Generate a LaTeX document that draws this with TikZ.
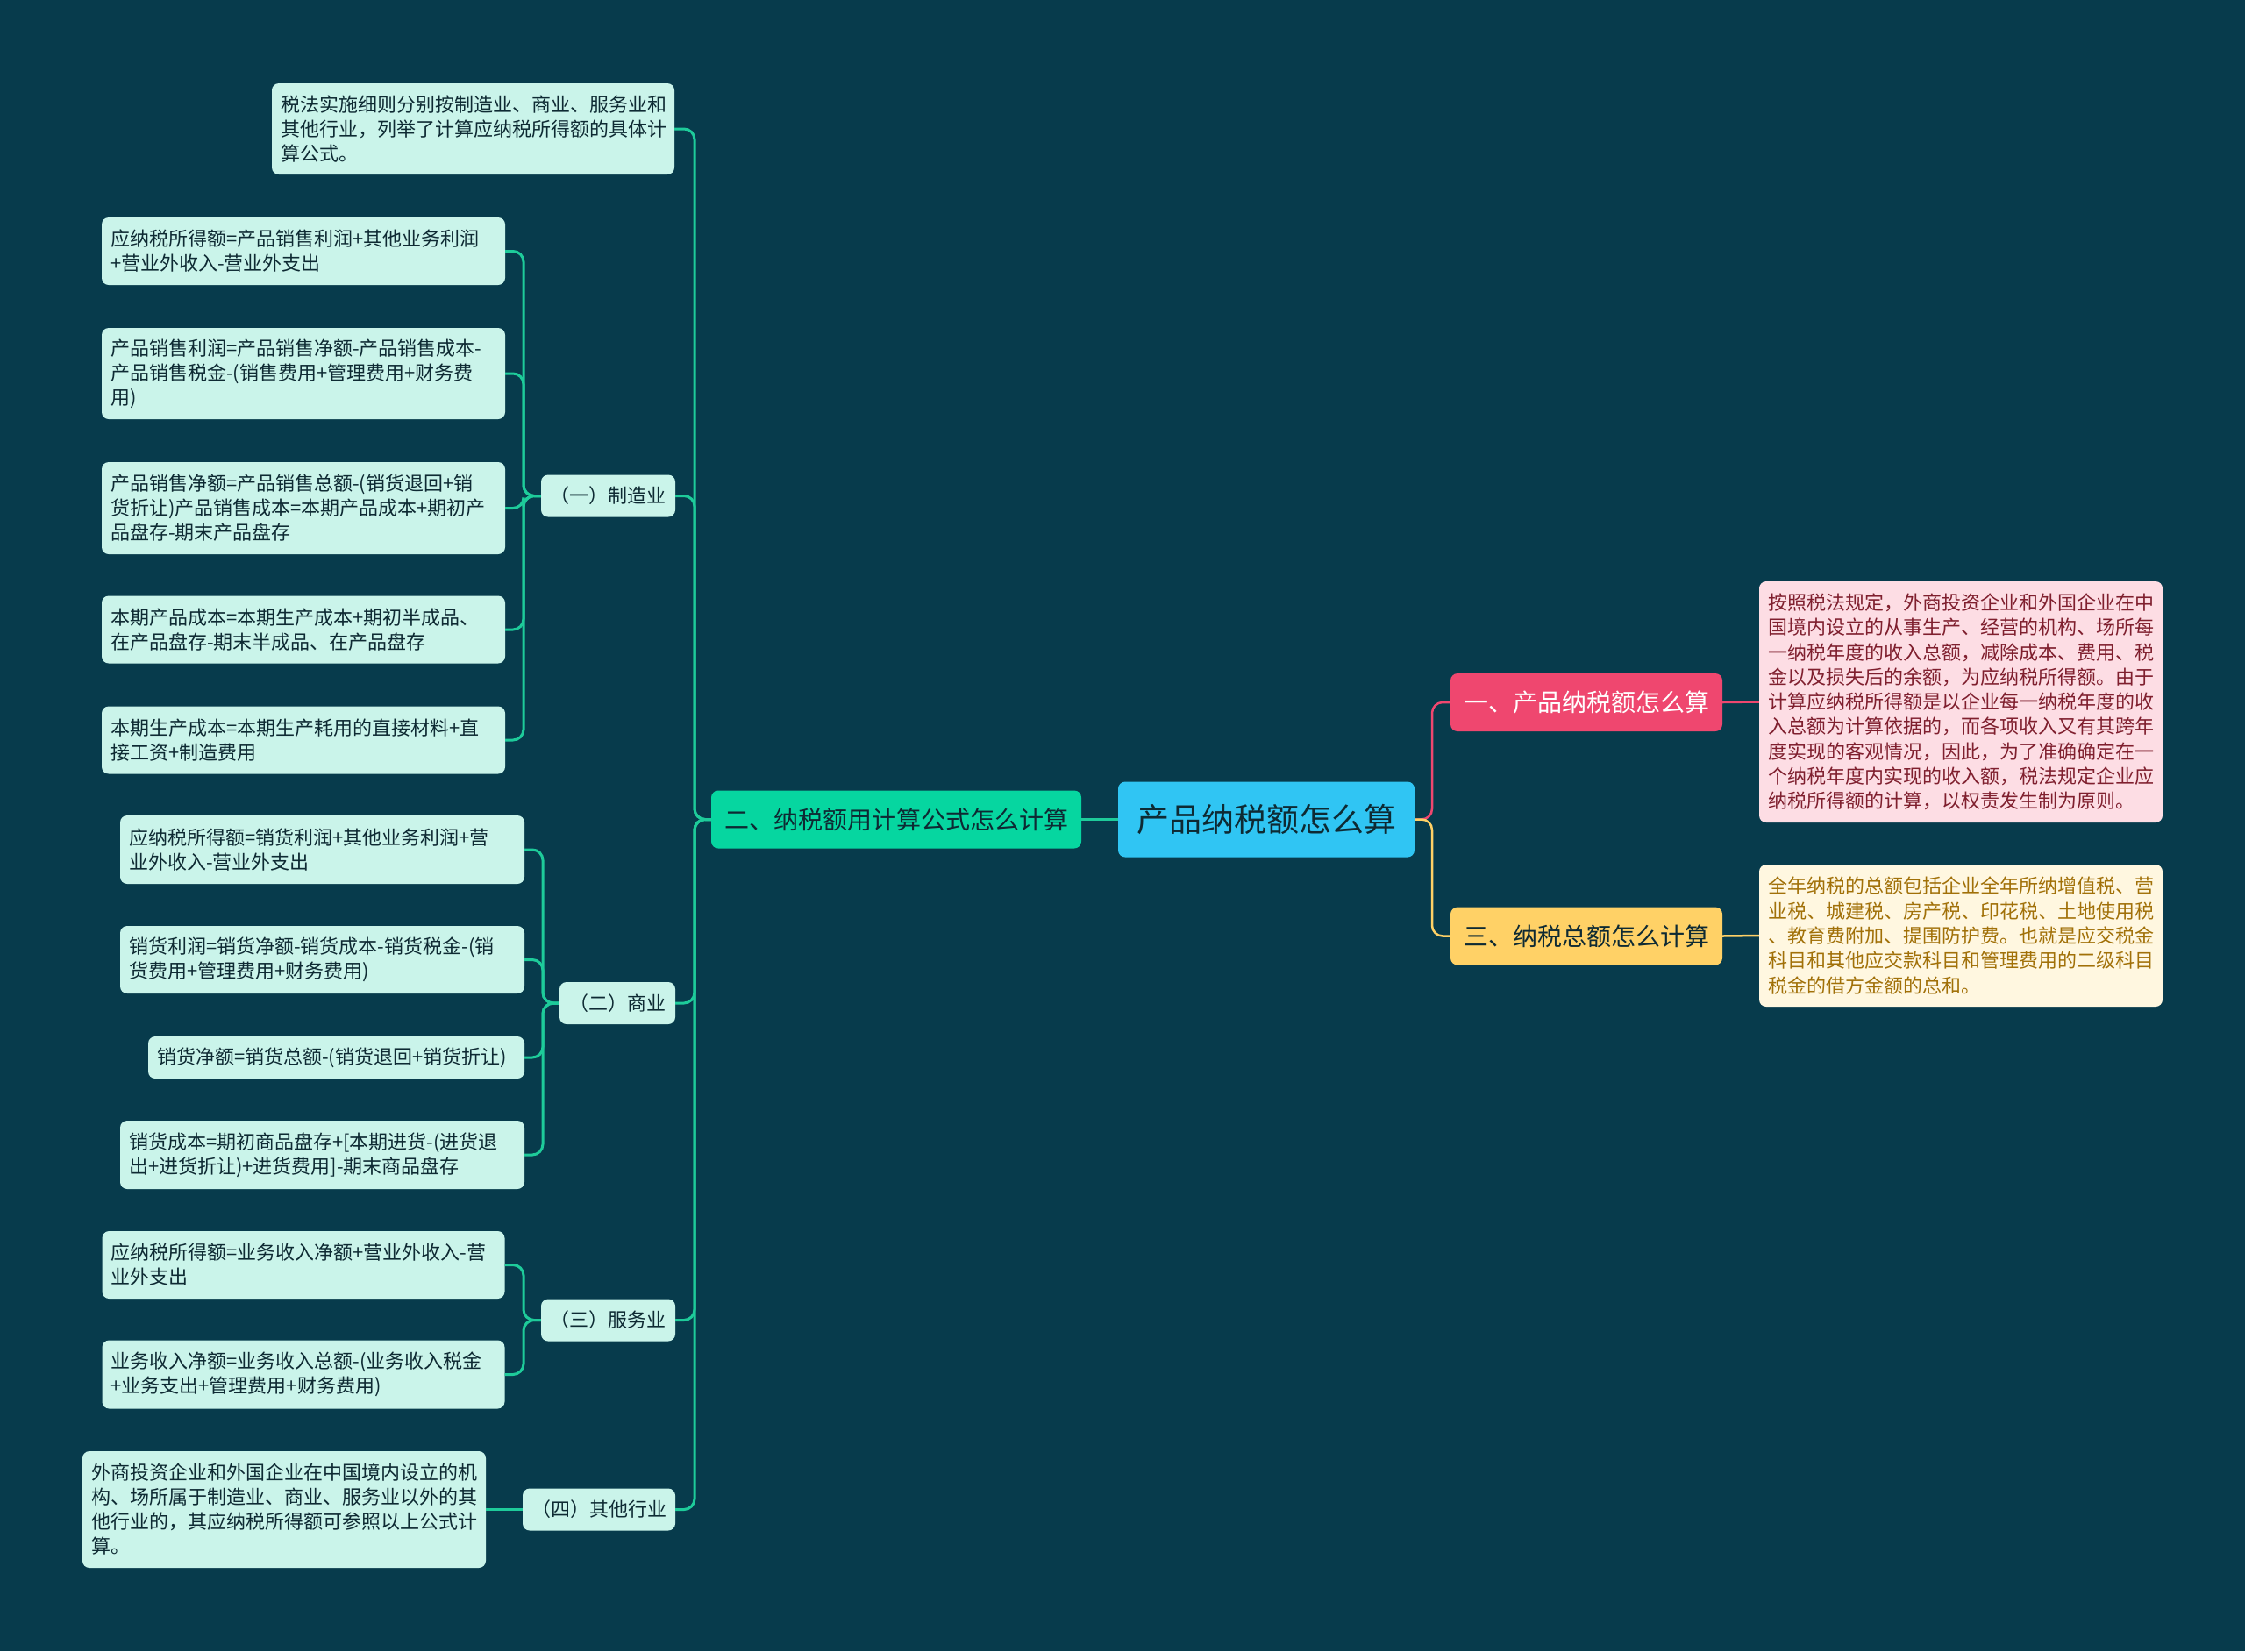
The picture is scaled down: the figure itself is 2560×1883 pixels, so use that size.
\documentclass[tikz,border=0pt]{standalone}
\usepackage{fontspec}
\setmainfont{Noto Sans CJK SC}
\definecolor{bg}{HTML}{073B4C}
\definecolor{mint}{HTML}{CAF4EA}
\definecolor{tealline}{HTML}{1ECB9A}
\definecolor{rootblue}{HTML}{30C5F3}
\definecolor{brgreen}{HTML}{06D6A0}
\definecolor{brpink}{HTML}{EF476F}
\definecolor{bryellow}{HTML}{FFD166}
\definecolor{pinkleaf}{HTML}{FDDDE4}
\definecolor{pinktext}{HTML}{7F1F2E}
\definecolor{yelleaf}{HTML}{FFF7E0}
\definecolor{yeltext}{HTML}{A17008}
\definecolor{darktext}{HTML}{0E2A33}
\tikzset{
  box/.style={draw=none, rounded corners=8pt, inner ysep=0pt, anchor=center},
  leafbox/.style={box, fill=mint, text=darktext, align=left, inner xsep=10pt,
    font=\fontsize{22}{28}\selectfont},
  midbox/.style={box, fill=mint, text=darktext, align=center, inner xsep=6pt,
    font=\fontsize{22}{28}\selectfont, minimum height=48pt},
  rootbox/.style={box, fill=rootblue, text=darktext, font=\fontsize{37}{44}\selectfont,
    minimum width=338pt, minimum height=86pt},
  brbox/.style={box, font=\fontsize{28}{34}\selectfont, minimum height=66pt},
  infobox/.style={box, align=left, inner xsep=10pt, text width=440pt,
    font=\fontsize{22}{28.3}\selectfont},
  tline/.style={draw=tealline, line width=3pt, rounded corners=12pt},
  pline/.style={draw=brpink, line width=2.5pt, rounded corners=12pt},
  yline/.style={draw=bryellow, line width=2.5pt, rounded corners=12pt},
}
\begin{document}
\begin{tikzpicture}[x=1pt, y=-1pt]
\fill[bg] (0,0) rectangle (2560,1883);
\useasboundingbox (0,0) rectangle (2560,1883);

% root and main branches
\node[rootbox] (root) at (1444,934.5) {产品纳税额怎么算};
\node[brbox, fill=brgreen, text=darktext, minimum width=422pt] (b2) at (1022,934.5) {二、纳税额用计算公式怎么计算};
\node[brbox, fill=brpink, text=white, minimum width=310pt] (b1) at (1809,801) {一、产品纳税额怎么算};
\node[brbox, fill=bryellow, text=darktext, minimum width=310pt] (b3) at (1809,1067.5) {三、纳税总额怎么计算};

% right leaves
\node[infobox, fill=pinkleaf, text=pinktext, minimum height=275pt] (p1) at (2236,800.5) {按照税法规定，外商投资企业和外国企业在中\\国境内设立的从事生产、经营的机构、场所每\\一纳税年度的收入总额，减除成本、费用、税\\金以及损失后的余额，为应纳税所得额。由于\\计算应纳税所得额是以企业每一纳税年度的收\\入总额为计算依据的，而各项收入又有其跨年\\度实现的客观情况，因此，为了准确确定在一\\个纳税年度内实现的收入额，税法规定企业应\\纳税所得额的计算，以权责发生制为原则。};
\node[infobox, fill=yelleaf, text=yeltext, minimum height=162pt] (y1) at (2236,1067) {全年纳税的总额包括企业全年所纳增值税、营\\业税、城建税、房产税、印花税、土地使用税\\、教育费附加、提围防护费。也就是应交税金\\科目和其他应交款科目和管理费用的二级科目\\税金的借方金额的总和。};

% left side: second level
\node[leafbox, text width=439pt, minimum height=104pt] (tx) at (539.5,147) {税法实施细则分别按制造业、商业、服务业和\\其他行业，列举了计算应纳税所得额的具体计\\算公式。};
\node[midbox, minimum width=153pt] (zz) at (693.5,565.5) {（一）制造业};
\node[midbox, minimum width=132pt] (sy) at (704,1144) {（二）商业};
\node[midbox, minimum width=153pt] (fw) at (693.5,1505.5) {（三）服务业};
\node[midbox, minimum width=174pt] (qt) at (683,1721.5) {（四）其他行业};

% manufacturing leaves
\node[leafbox, text width=440pt, minimum height=77pt] (m1) at (346,286.5) {应纳税所得额=产品销售利润+其他业务利润\\+营业外收入-营业外支出};
\node[leafbox, text width=440pt, minimum height=104pt] (m2) at (346,426) {产品销售利润=产品销售净额-产品销售成本-\\产品销售税金-(销售费用+管理费用+财务费\\用)};
\node[leafbox, text width=440pt, minimum height=105pt] (m3) at (346,579.5) {产品销售净额=产品销售总额-(销货退回+销\\货折让)产品销售成本=本期产品成本+期初产\\品盘存-期末产品盘存};
\node[leafbox, text width=440pt, minimum height=77pt] (m4) at (346,718) {本期产品成本=本期生产成本+期初半成品、\\在产品盘存-期末半成品、在产品盘存};
\node[leafbox, text width=440pt, minimum height=77pt] (m5) at (346,844) {本期生产成本=本期生产耗用的直接材料+直\\接工资+制造费用};

% commerce leaves
\node[leafbox, text width=441pt, minimum height=78pt] (s1) at (367.5,969) {应纳税所得额=销货利润+其他业务利润+营\\业外收入-营业外支出};
\node[leafbox, text width=441pt, minimum height=77pt] (s2) at (367.5,1094.5) {销货利润=销货净额-销货成本-销货税金-(销\\货费用+管理费用+财务费用)};
\node[leafbox, text width=409pt, minimum height=48pt] (s3) at (383.5,1206) {销货净额=销货总额-(销货退回+销货折让)};
\node[leafbox, text width=441pt, minimum height=78pt] (s4) at (367.5,1317) {销货成本=期初商品盘存+[本期进货-(进货退\\出+进货折让)+进货费用]-期末商品盘存};

% service leaves
\node[leafbox, text width=439pt, minimum height=77pt] (f1) at (346,1442.5) {应纳税所得额=业务收入净额+营业外收入-营\\业外支出};
\node[leafbox, text width=439pt, minimum height=78pt] (f2) at (346,1567.5) {业务收入净额=业务收入总额-(业务收入税金\\+业务支出+管理费用+财务费用)};

% other industry leaf
\node[leafbox, text width=440pt, minimum height=133pt] (o1) at (324,1721.5) {外商投资企业和外国企业在中国境内设立的机\\构、场所属于制造业、商业、服务业以外的其\\他行业的，其应纳税所得额可参照以上公式计\\算。};

% spine coordinates
\coordinate (spL) at (792,934.5);
\coordinate (spR) at (1633,934.5);
\coordinate (spZ) at (597,565.5);
\coordinate (spS) at (619,1144);
\coordinate (spF) at (597,1505.5);

% connectors: root
\draw[tline] (root.west) -- (b2.east);
\draw[pline] (root.east) -- (spR) |- (b1.west);
\draw[yline] (root.east) -- (spR) |- (b3.west);
\draw[pline] (b1.east) -- (p1.west);
\draw[yline] (b3.east) -- (y1.west);

% connectors: branch two
\foreach \c in {tx,zz,sy,fw,qt}
  \draw[tline] (b2.west) -- (spL) |- (\c.east);

\foreach \c in {m1,m2,m3,m4,m5}
  \draw[tline] (zz.west) -- (spZ) |- (\c.east);
\foreach \c in {s1,s2,s3,s4}
  \draw[tline] (sy.west) -- (spS) |- (\c.east);
\foreach \c in {f1,f2}
  \draw[tline] (fw.west) -- (spF) |- (\c.east);
\draw[tline] (qt.west) -- (o1.east);
\end{tikzpicture}
\end{document}
